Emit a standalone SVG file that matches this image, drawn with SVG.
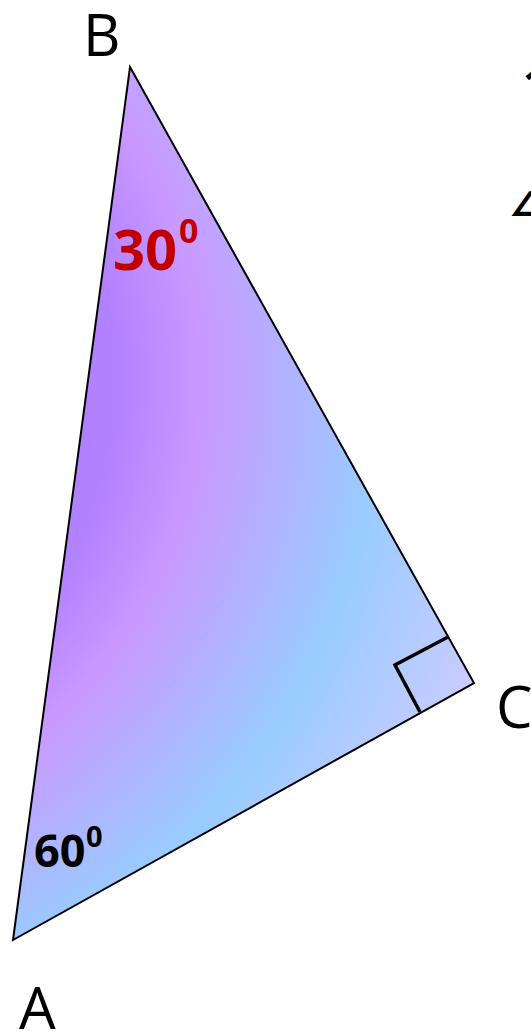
<svg xmlns="http://www.w3.org/2000/svg" width="531" height="1033" viewBox="0 0 531 1033">
  <defs>
    <radialGradient id="fillGrad" gradientUnits="userSpaceOnUse" cx="-255" cy="380" r="800" fx="-255" fy="380">
      <stop offset="0" stop-color="#b080ff"/>
      <stop offset="0.46" stop-color="#b181ff"/>
      <stop offset="0.57" stop-color="#ca98ff"/>
      <stop offset="0.79" stop-color="#99ccff"/>
      <stop offset="0.99" stop-color="#cccbff"/>
    </radialGradient>
    <style>
      .lbl { font-family: "Open Sans", "Liberation Sans", sans-serif; fill: #000; }
      .ang { font-family: "Open Sans", "Liberation Sans", sans-serif; font-weight: bold; }
    </style>
  </defs>
  <rect x="0" y="0" width="531" height="1033" fill="#ffffff"/>

  <g id="triangle">
    <polygon points="130,67 474,683 13,940" fill="url(#fillGrad)" stroke="#000" stroke-width="2" stroke-linejoin="miter"/>
  </g>

  <g id="right-angle">
    <polyline points="448,637 395,665 420,712" fill="none" stroke="#000" stroke-width="3.5" stroke-linejoin="miter"/>
  </g>

  <g id="label-B"><text class="lbl" x="83" y="56" font-size="58">B</text></g>
  <g id="label-C"><text class="lbl" x="496" y="728" font-size="58">C</text></g>
  <g id="label-A"><text class="lbl" x="19" y="1029" font-size="58">A</text></g>

  <g id="angle-B">
    <text class="ang" x="113" y="270" font-size="56" fill="#c00000">30</text>
    <text class="ang" x="179" y="243" font-size="34" fill="#c00000">0</text>
  </g>
  <g id="angle-A">
    <text class="ang" x="34" y="867" font-size="45" fill="#000">60</text>
    <text class="ang" x="86" y="847" font-size="29" fill="#000">0</text>
  </g>

  <g id="clipped-text">
    <text x="509" y="216" font-family="DejaVu Sans, sans-serif" font-weight="bold" font-size="34" fill="#000">∠</text>
    <text x="523" y="100" font-family="Open Sans, sans-serif" font-weight="bold" font-size="44" fill="#000">1</text>
  </g>
</svg>
